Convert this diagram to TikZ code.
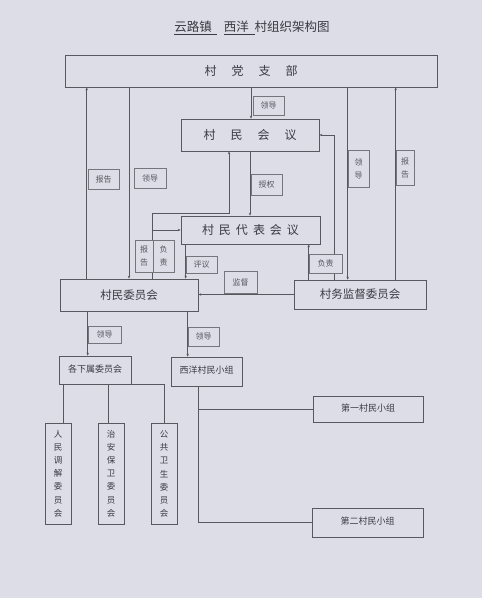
\documentclass[tikz,border=0pt]{standalone}
\usepackage{fontspec}
\setmainfont{Noto Sans CJK SC}
\definecolor{paper}{HTML}{DDDDE8}
\definecolor{ink}{HTML}{3A3A42}
\usetikzlibrary{positioning, arrows.meta, calc}

\begin{document}
\begin{tikzpicture}[
    x=1pt, y=-1pt,
    >={Stealth[length=3pt, width=2.4pt]},
    box/.style={rectangle, draw=ink!85, line width=0.6pt, inner sep=0pt,
                align=center, text=ink},
    hall/.style={box, font=\fontsize{12}{14}\selectfont},
    unit/.style={box, font=\fontsize{11.5}{14}\selectfont},
    team/.style={box, font=\fontsize{9}{11}\selectfont},
    col/.style={box, minimum width=26pt, minimum height=101pt,
                font=\fontsize{8.5}{13.2}\selectfont},
    tag/.style={rectangle, draw=ink!70, line width=0.6pt, fill=paper, inner sep=0pt,
                align=center, font=\fontsize{8}{13}\selectfont, text=ink!85},
    arr/.style={->, ink!85, line width=0.6pt},
    link/.style={ink!85, line width=0.6pt},
  ]
  \fill[paper] (0,0) rectangle (482,598);

  \node[font=\fontsize{12.5}{15}\selectfont, text=ink] (title) at (252,28)
    {\underline{云路镇\hspace{5pt}}\hspace{7pt}\underline{西洋\hspace{6pt}}村组织架构图};

  % main boxes
  \node[hall, minimum width=372pt, minimum height=32pt] (party) at (251,71)
    {村\hspace{15pt}党\hspace{15pt}支\hspace{15pt}部};
  \node[hall, minimum width=138pt, minimum height=32pt] (vmeet) at (250,135)
    {村\hspace{15pt}民\hspace{15pt}会\hspace{15pt}议};
  \node[hall, minimum width=139pt, minimum height=28pt] (vrep) at (250.5,230)
    {村\hspace{5pt}民\hspace{5pt}代\hspace{5pt}表\hspace{5pt}会\hspace{5pt}议};
  \node[unit, minimum width=138pt, minimum height=32pt] (vcom) at (129,295) {村民委员会};
  \node[unit, minimum width=132pt, minimum height=29pt] (supv) at (360,294.5) {村务监督委员会};

  \node[team, minimum width=72pt, minimum height=28pt] (subc) at (95,370) {\raisebox{3pt}{各下属委员会}};
  \node[team, minimum width=71pt, minimum height=29pt] (xygroup) at (206.5,371.5) {\raisebox{4pt}{西洋村民小组}};
  \node[team, minimum width=110pt, minimum height=26pt] (g1) at (368,409) {\raisebox{3pt}{第一村民小组}};
  \node[team, minimum width=111pt, minimum height=29pt] (g2) at (367.5,522.5) {\raisebox{4pt}{第二村民小组}};

  \node[col] (col1) at (58,473.5) {人\\民\\调\\解\\委\\员\\会};
  \node[col] (col2) at (111,473.5) {治\\安\\保\\卫\\委\\员\\会};
  \node[col] (col3) at (164,474) {公\\共\\卫\\生\\委\\员\\会};

  % party branch
  \coordinate (up1) at ($(vcom.north west)+(27,0)$);
  \draw[arr] (up1) -- (up1 |- party.south);
  \draw[arr] (vcom.north |- party.south) -- (vcom.north);
  \draw[arr] (party.south) -- (party.south |- vmeet.north);
  \coordinate (dn4) at ($(supv.north west)+(54,0)$);
  \draw[arr] (dn4 |- party.south) -- (dn4);
  \coordinate (up5) at ($(supv.north west)+(102,0)$);
  \draw[arr] (up5) -- (up5 |- party.south);

  % meetings
  \draw[arr] (vmeet.south) -- (vmeet.south |- vrep.north);
  \coordinate (rep1) at ($(vcom.north west)+(93,0)$);
  \coordinate (rep2) at ($(vmeet.south)+(-21,0)$);
  \coordinate (ridge) at ($(vrep.north)+(0,-2)$);
  \draw[arr] (rep1) |- (rep2 |- ridge) -- (rep2);
  \draw[arr] (vrep.west -| rep1) -- (vrep.west);
  \coordinate (rv) at ($(vrep.south west)+(5,0)$);
  \draw[arr] (rv) -- (rv |- vcom.north);
  \coordinate (rs) at ($(supv.north west)+(15,0)$);
  \draw[arr] (rs) -- (rs |- vrep.south);
  \draw[arr] (supv.west) -- (supv.west -| vcom.east);
  \coordinate (rm) at ($(supv.north west)+(41,0)$);
  \draw[arr] (rm) |- (vmeet.east);

  % lower levels
  \coordinate (ld1) at ($(vcom.south west)+(28,0)$);
  \draw[arr] (ld1) -- (ld1 |- subc.north);
  \coordinate (ld2) at ($(vcom.south west)+(128,0)$);
  \draw[arr] (ld2) -- (ld2 |- xygroup.north);
  \coordinate (c1) at ($(col1.north)+(5,0)$);
  \draw[link] (c1 |- subc.south) -- (c1);
  \coordinate (c2) at ($(col2.north)+(-3,0)$);
  \draw[link] (c2 |- subc.south) -- (c2);
  \draw[link] (subc.south east) -| (col3.north);
  \coordinate (trunk) at ($(xygroup.south)+(-8.5,0)$);
  \draw[link] (trunk) |- (g2.west);
  \draw[link] (g1.west -| trunk) -- (g1.west);

  % labels on connectors
  \node[tag, minimum width=31pt, minimum height=20pt] (trep1) at (103.5,179) {报告};
  \node[tag, minimum width=32pt, minimum height=20pt] (tlead1) at (150,178) {领导};
  \node[tag, minimum width=31pt, minimum height=19pt] (tlead2) at (268.5,105.5) {领导};
  \node[tag, minimum width=21pt, minimum height=37pt] (tlead3) at (358.5,168.5) {领\\导};
  \node[tag, minimum width=18pt, minimum height=35pt] (trep2) at (405,167.5) {报\\告};
  \node[tag, minimum width=31pt, minimum height=21pt] (tauth) at (266.5,184.5) {授权};
  \node[tag, minimum width=18pt, minimum height=32pt] (trep3) at (144,256) {报\\告};
  \node[tag, minimum width=21pt, minimum height=32pt] (tresp1) at (163.5,256) {负\\责};
  \node[tag, minimum width=31pt, minimum height=17pt] (teval) at (201.5,264.5) {评议};
  \node[tag, minimum width=33pt, minimum height=19pt] (tresp2) at (325.5,263.5) {负责};
  \node[tag, minimum width=33pt, minimum height=22pt] (tsup) at (240.5,282) {监督};
  \node[tag, minimum width=33pt, minimum height=17pt] (tlead4) at (104.5,334.5) {领导};
  \node[tag, minimum width=31pt, minimum height=19pt] (tlead5) at (203.5,336.5) {领导};
\end{tikzpicture}
\end{document}
